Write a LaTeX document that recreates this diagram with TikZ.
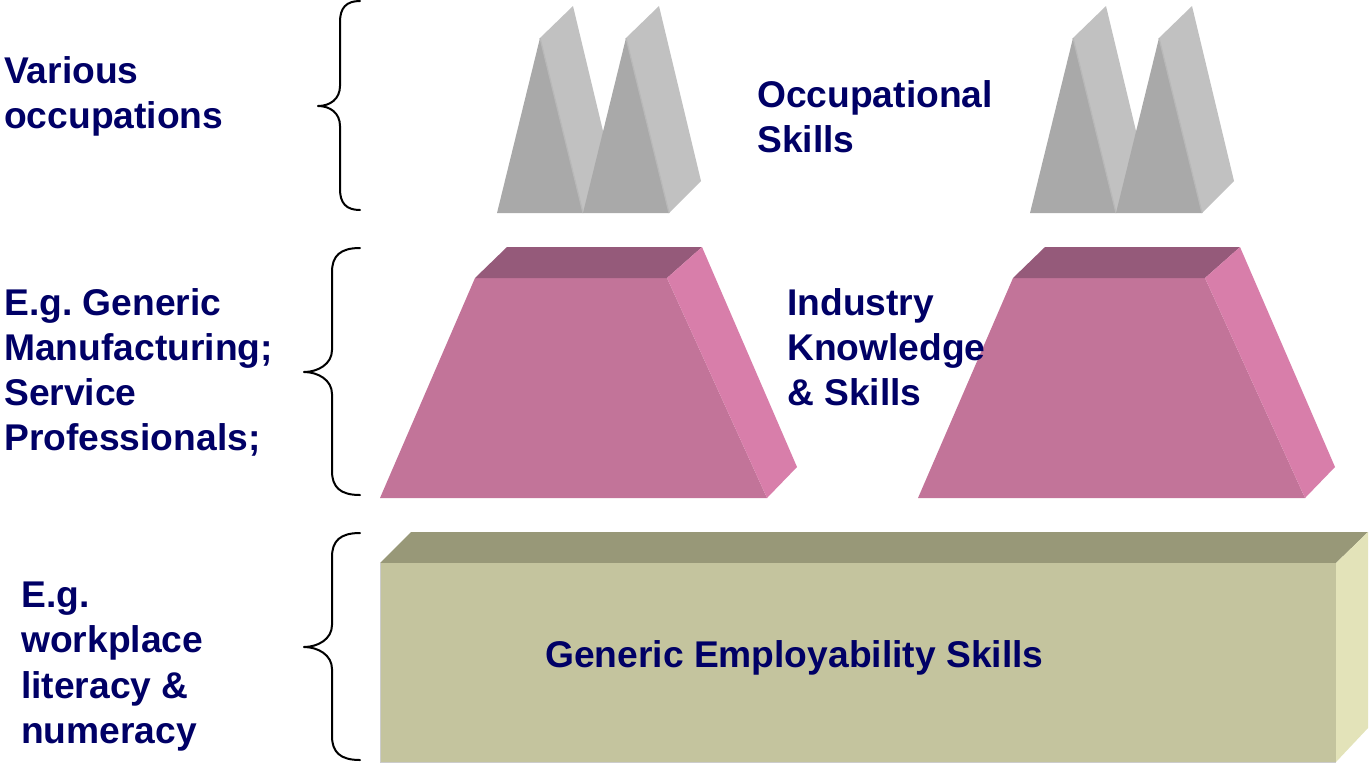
\documentclass[tikz,border=0pt]{standalone}
\usepackage{fontspec}
\setmainfont{Liberation Sans}
\frenchspacing
\definecolor{navy}{RGB}{0,0,102}
\definecolor{prismfrontc}{RGB}{169,169,169}
\definecolor{prismsidec}{RGB}{193,193,193}
\definecolor{prismedgec}{RGB}{184,184,184}
\definecolor{trapfrontc}{RGB}{194,116,153}
\definecolor{traptopc}{RGB}{149,90,122}
\definecolor{trapsidec}{RGB}{216,126,170}
\definecolor{boxfrontc}{RGB}{196,196,158}
\definecolor{boxtopc}{RGB}{152,152,120}
\definecolor{boxsidec}{RGB}{227,227,185}
\newcommand{\labelfont}{\fontsize{37.2}{45}\selectfont\bfseries}
\tikzset{
  lbl/.style={anchor=base west, inner sep=0pt, text=navy, font=\labelfont},
  bracecurve/.style={draw=black, line width=2pt, line cap=round, line join=round},
  % one triangular prism; origin = left corner of its base
  prism/.pic={
    \fill[prismsidec] (43,-175) -- (76,-207) -- (118,-32) -- (86,0) -- cycle;
    \fill[prismfrontc] (0,0) -- (43,-175) -- (86,0) -- cycle;
    \draw[prismedgec, line width=1.2pt] (43,-175) -- (86,0);
  },
  % one truncated wedge; origin = lower left corner of its front face
  wedge/.pic={
    \fill[trapfrontc] (0,0) -- (95,-220) -- (287,-220) -- (387,0) -- cycle;
    \fill[traptopc] (95,-220) -- (127,-251) -- (322,-251) -- (287,-220) -- cycle;
    \fill[trapsidec] (287,-220) -- (322,-251) -- (417,-31) -- (387,0) -- cycle;
  },
}
\begin{document}
\begin{tikzpicture}[x=1pt,y=-1pt]
\useasboundingbox (0,0) rectangle (1370,764);

% top row: two pairs of prisms
\pic at (497,213) {prism};
\pic at (583,213) {prism};
\pic at (1030,213) {prism};
\pic at (1116,213) {prism};

% middle row: two wedges
\pic at (380,498) {wedge};
\pic at (918,498) {wedge};

% bottom slab
\fill[boxtopc] (380,563) -- (411,532) -- (1368,532) -- (1336,563) -- cycle;
\fill[boxsidec] (1336,563) -- (1368,532) -- (1368,728) -- (1336,762) -- cycle;
\fill[boxfrontc] (380,563) rectangle (1336,762);
\draw[black!20, line width=0.6pt] (380,563) -- (380,762) -- (1336,762);

% braces
\draw[bracecurve] (360,1) .. controls (346,1) and (340,8) .. (340,22) -- (340,86)
  .. controls (340,99) and (330,106) .. (318,106)
  .. controls (330,106) and (340,113) .. (340,126) -- (340,189)
  .. controls (340,203) and (346,210) .. (360,210);
\draw[bracecurve] (360,248) .. controls (340,248) and (332,256) .. (332,272) -- (332,350)
  .. controls (332,364) and (318,372) .. (304,372)
  .. controls (318,372) and (332,380) .. (332,394) -- (332,471)
  .. controls (332,487) and (340,495) .. (360,495);
\draw[bracecurve] (360,533) .. controls (340,533) and (332,541) .. (332,557) -- (332,625)
  .. controls (332,639) and (318,647) .. (304,647)
  .. controls (318,647) and (332,655) .. (332,669) -- (332,736)
  .. controls (332,752) and (340,760) .. (360,760);

% left labels
\node[lbl] (va1) at (4,83) {Various};
\node[lbl] (va2) at (4,128) {occupations};
\node[lbl] (eg1) at (4,315) {E.g. Generic};
\node[lbl] (eg2) at (4,360) {Manufacturing;};
\node[lbl] (eg3) at (4,405) {Service};
\node[lbl] (eg4) at (4,450) {Professionals;};
\node[lbl] (wl1) at (21,607) {E.g.};
\node[lbl] (wl2) at (21,652) {workplace};
\node[lbl] (wl3) at (21,698) {literacy \&};
\node[lbl] (wl4) at (21,743) {numeracy};

% labels of the layers
\node[lbl] (oc1) at (757,107) {Occupational};
\node[lbl] (oc2) at (757,152) {Skills};
\node[lbl] (ik1) at (787,315) {Industry};
\node[lbl] (ik2) at (787,360) {Knowledge};
\node[lbl] (ik3) at (787,405) {\& Skills};
\node[lbl] (ges) at (545,667) {Generic Employability Skills};
\end{tikzpicture}
\end{document}
